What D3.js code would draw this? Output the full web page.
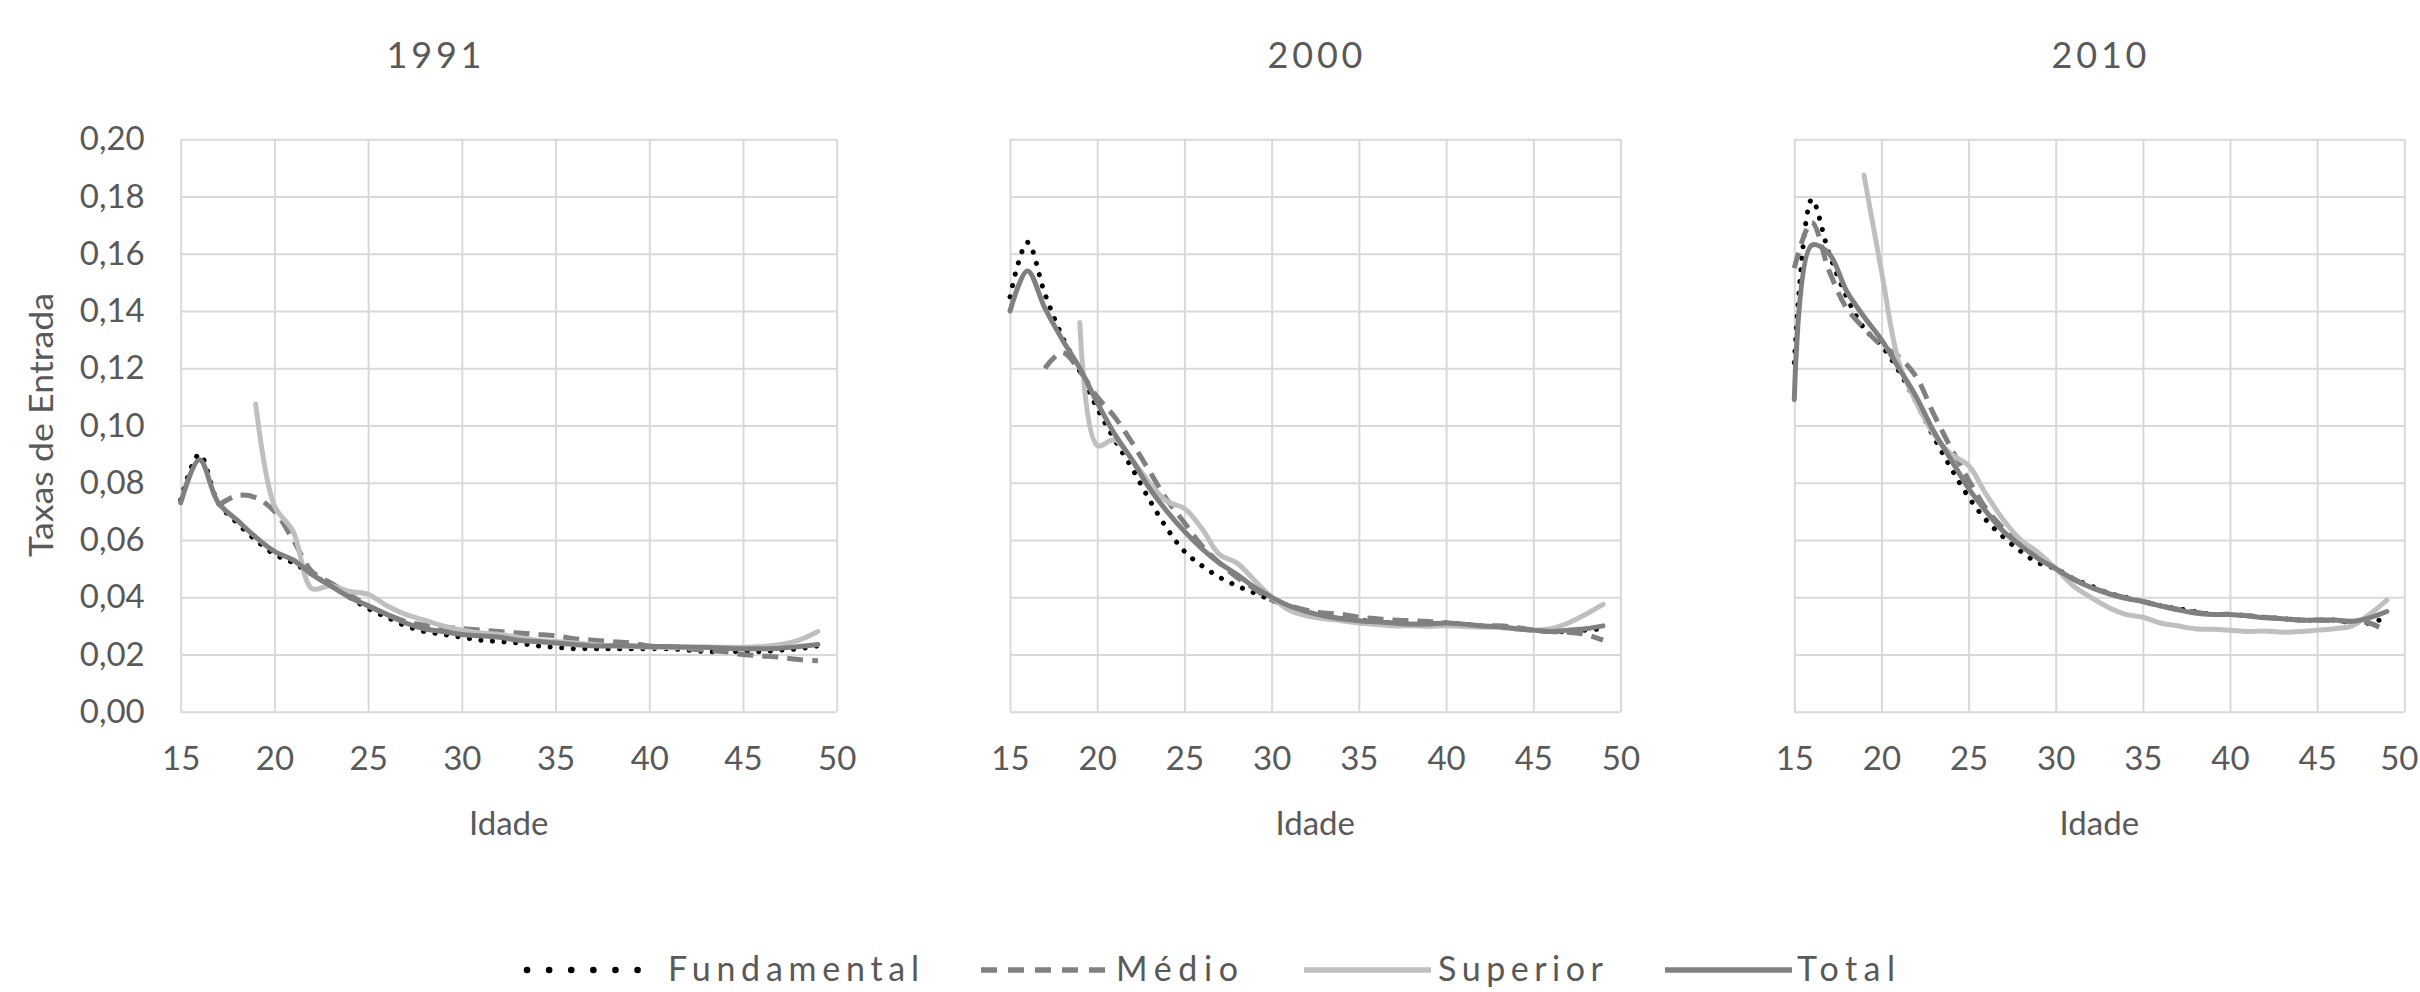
<!DOCTYPE html>
<html><head><meta charset="utf-8">
<script src="https://cdn.jsdelivr.net/npm/d3@7"></script>
<style>
body{margin:0;background:#fff;}
svg{display:block;}
text{font-family:Lato,"Open Sans",sans-serif;fill:#595959;}
</style>
</head><body>
<svg id="chart" width="2420" height="992"></svg>
<script>
// ---------- DATA ----------
const ages = [15,16,17,18,19,20,21,22,23,24,25,26,27,28,29,30,31,32,33,34,35,36,37,38,39,40,41,42,43,44,45,46,47,48,49];
const years = ["1991","2000","2010"];
const seriesNames = ["Fundamental","Médio","Superior","Total"];
const xTicks = [15,20,25,30,35,40,45,50];
const yTicks = [0,0.02,0.04,0.06,0.08,0.10,0.12,0.14,0.16,0.18,0.20];

const fundamental1991 = [0.074,0.090,0.073,0.066,0.060,0.055,0.052,0.048,0.044,0.040,0.036,0.033,0.030,0.028,0.027,0.026,0.025,0.0245,0.024,0.023,0.0225,0.022,0.022,0.022,0.022,0.022,0.022,0.0215,0.021,0.021,0.021,0.021,0.0215,0.022,0.023];
const medio1991 = [null,null,0.072,0.0755,0.0748,0.070,0.060,0.049,0.045,0.041,0.037,0.034,0.0315,0.0302,0.0296,0.029,0.0285,0.028,0.0275,0.027,0.0265,0.0255,0.025,0.0245,0.024,0.023,0.0225,0.022,0.0215,0.021,0.020,0.0195,0.019,0.0182,0.0178];
const superior1991 = [null,null,null,null,0.1075,0.072,0.063,0.043,0.044,0.042,0.041,0.037,0.034,0.032,0.030,0.0285,0.0275,0.027,0.026,0.025,0.0245,0.024,0.0235,0.023,0.0228,0.0225,0.0225,0.0225,0.0225,0.0225,0.0225,0.0228,0.0235,0.025,0.028];
const total1991 = [0.073,0.088,0.073,0.067,0.061,0.056,0.053,0.048,0.044,0.040,0.037,0.034,0.031,0.029,0.028,0.027,0.0265,0.026,0.025,0.0245,0.024,0.0235,0.023,0.023,0.023,0.0228,0.0228,0.0226,0.0225,0.0222,0.022,0.022,0.0222,0.0228,0.0235];

const fundamental2000 = [0.145,0.164,0.146,0.131,0.119,0.106,0.095,0.085,0.074,0.064,0.056,0.051,0.047,0.044,0.0415,0.039,0.037,0.035,0.0335,0.0325,0.032,0.0315,0.031,0.0305,0.0305,0.031,0.0305,0.030,0.0295,0.029,0.0285,0.028,0.028,0.0285,0.029];
const medio2000 = [null,null,0.120,0.1255,0.119,0.110,0.103,0.094,0.084,0.074,0.066,0.058,0.052,0.047,0.043,0.039,0.037,0.0355,0.0345,0.034,0.033,0.0325,0.032,0.0318,0.0315,0.031,0.0305,0.030,0.030,0.0295,0.0285,0.028,0.0278,0.027,0.025];
const superior2000 = [null,null,null,null,0.136,0.093,0.095,0.088,0.080,0.0735,0.071,0.064,0.055,0.052,0.046,0.040,0.0355,0.0335,0.0325,0.0318,0.031,0.0305,0.030,0.030,0.0298,0.030,0.0298,0.0295,0.0295,0.029,0.0285,0.029,0.031,0.034,0.0375];
const total2000 = [0.140,0.154,0.141,0.130,0.120,0.108,0.097,0.088,0.078,0.070,0.063,0.057,0.052,0.048,0.0435,0.040,0.037,0.035,0.0335,0.0325,0.0318,0.0314,0.031,0.0306,0.0306,0.031,0.0306,0.030,0.0297,0.029,0.0285,0.028,0.0285,0.029,0.030];

const fundamental2010 = [0.122,0.179,0.160,0.145,0.134,0.128,0.119,0.108,0.096,0.085,0.075,0.067,0.061,0.056,0.052,0.050,0.0465,0.044,0.0415,0.040,0.0385,0.037,0.036,0.035,0.034,0.034,0.0335,0.033,0.0325,0.032,0.032,0.032,0.031,0.031,0.033];
const medio2010 = [0.155,0.171,0.154,0.141,0.134,0.128,0.124,0.117,0.104,0.092,0.081,0.071,0.064,0.058,0.054,0.050,0.0465,0.0435,0.0415,0.0398,0.0385,0.037,0.0358,0.0348,0.034,0.034,0.0335,0.033,0.0325,0.032,0.032,0.0318,0.0315,0.031,0.028];
const superior2010 = [null,null,null,null,0.1875,0.154,0.122,0.108,0.097,0.090,0.086,0.076,0.067,0.060,0.0556,0.050,0.044,0.040,0.0365,0.034,0.033,0.031,0.030,0.029,0.0288,0.0285,0.028,0.0282,0.0278,0.028,0.0285,0.029,0.030,0.034,0.039];
const total2010 = [0.109,0.163,0.160,0.147,0.138,0.130,0.120,0.110,0.098,0.088,0.078,0.070,0.063,0.058,0.0535,0.050,0.0463,0.0435,0.0413,0.0396,0.0385,0.037,0.0356,0.0345,0.034,0.034,0.0335,0.0328,0.0325,0.032,0.032,0.032,0.0316,0.0328,0.035];

const panelData = [
  [fundamental1991, medio1991, superior1991, total1991],
  [fundamental2000, medio2000, superior2000, total2000],
  [fundamental2010, medio2010, superior2010, total2010]
];

// ---------- LAYOUT / STYLE ----------
const panels = [
  {left:180.7, right:836.7, titleX:434, showY:true},
  {left:1010,  right:1620.5, titleX:1315, showY:false},
  {left:1794.3,right:2404.3, titleX:2099, showY:false}
];
const plotTop = 139.3, plotBottom = 711.7;
const styles = [
  {stroke:"#000000", dash:"0.1,11.5", cap:"round", width:5},
  {stroke:"#808080", dash:"16,9", cap:"butt", width:5},
  {stroke:"#bfbfbf", dash:null, cap:"round", width:5},
  {stroke:"#808080", dash:null, cap:"round", width:5}
];
const gridColor = "#d9d9d9";
const svg = d3.select("#chart");
const fmt = d3.formatLocale({decimal:",", thousands:".", grouping:[3], currency:["",""]}).format(".2f");

panels.forEach((p, i) => {
  const x = d3.scaleLinear().domain([15,50]).range([p.left, p.right]);
  const y = d3.scaleLinear().domain([0,0.20]).range([plotBottom, plotTop]);
  const g = svg.append("g");

  const ya = g.append("g").attr("transform", `translate(${p.left},0)`)
    .call(d3.axisLeft(y).tickValues(yTicks).tickSize(-(p.right-p.left)).tickPadding(36)
      .tickFormat(p.showY ? fmt : () => ""));
  ya.select(".domain").remove();
  ya.selectAll("line").attr("stroke", gridColor).attr("stroke-width", 2);
  ya.selectAll("text").attr("font-size", 33).attr("fill", "#595959").style("font-family","Lato");

  const xa = g.append("g").attr("transform", `translate(0,${plotBottom})`)
    .call(d3.axisBottom(x).tickValues(xTicks).tickSize(-(plotBottom-plotTop)).tickPadding(35).tickFormat(d3.format("d")));
  xa.select(".domain").remove();
  xa.selectAll("line").attr("stroke", gridColor).attr("stroke-width", 2);
  xa.selectAll("text").attr("font-size", 33).attr("fill", "#595959").style("font-family","Lato");
  // keep the last label of the right-most panel inside the picture
  if (i === panels.length - 1) {
    xa.selectAll(".tick").filter(d => d === 50).select("text")
      .attr("text-anchor", "end").attr("x", 2418 - p.right);
  }

  panelData[i].forEach((vals, s) => {
    const pts = ages.map((a, k) => [a, vals[k]]).filter(d => d[1] !== null);
    const line = d3.line().x(d => x(d[0])).y(d => y(d[1])).curve(d3.curveCatmullRom.alpha(0.5));
    const st = styles[s];
    g.append("path").attr("d", line(pts)).attr("fill", "none")
      .attr("stroke", st.stroke).attr("stroke-width", st.width)
      .attr("stroke-linecap", st.cap).attr("stroke-linejoin", "round")
      .attr("stroke-dasharray", st.dash);
  });

  g.append("text").attr("x", p.titleX).attr("y", 68).attr("text-anchor", "middle")
    .attr("font-size", 36).attr("textLength", 95).attr("lengthAdjust", "spacing").text(years[i]);
  g.append("text").attr("x", (p.left + p.right)/2).attr("y", 835).attr("text-anchor", "middle")
    .attr("font-size", 33).text("Idade");
});

svg.append("text").attr("transform", "translate(53,425) rotate(-90)").attr("text-anchor", "middle")
  .attr("font-size", 33).attr("textLength", 264).attr("lengthAdjust", "spacingAndGlyphs").text("Taxas de Entrada");

const legendItems = [
  {x1:527, x2:652, tx:668, tw:251},
  {x1:981, x2:1108, tx:1116, tw:122},
  {x1:1304, x2:1431, tx:1438, tw:165},
  {x1:1665, x2:1792, tx:1797, tw:98}
];
const legendDash = ["0.1,22", "16,11", null, null];
legendItems.forEach((it, s) => {
  const st = styles[s];
  svg.append("line").attr("x1", it.x1).attr("x2", it.x2).attr("y1", 970).attr("y2", 970)
    .attr("stroke", st.stroke).attr("stroke-width", s === 0 ? 6.5 : 5.5)
    .attr("stroke-linecap", s === 0 ? "round" : "butt").attr("stroke-dasharray", legendDash[s]);
  svg.append("text").attr("x", it.tx).attr("y", 981).attr("font-size", 34)
    .attr("textLength", it.tw).attr("lengthAdjust", "spacing").text(seriesNames[s]);
});
</script>
</body></html>
